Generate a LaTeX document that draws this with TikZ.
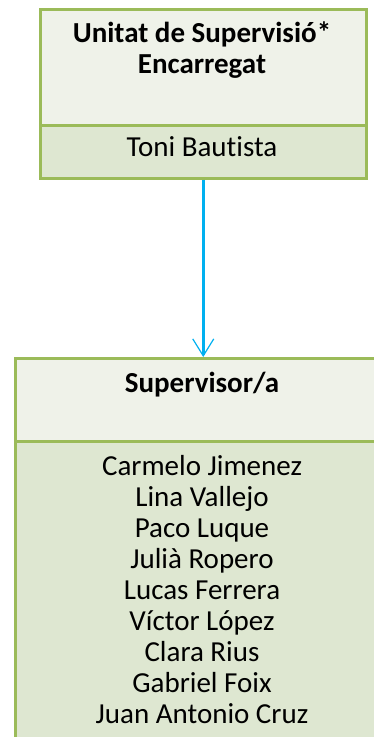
\documentclass[tikz,border=0pt]{standalone}
\usepackage{fontspec}
\setmainfont{Carlito}[Ligatures=CommonOff]
\usetikzlibrary{arrows.meta}
\definecolor{olive}{HTML}{9BBB59}
\definecolor{headfill}{HTML}{EFF2E9}
\definecolor{bodyfill}{HTML}{DEE7D1}
\definecolor{cyanarrow}{HTML}{00B0F0}
\tikzset{
  box/.style={draw=olive, line width=2.5pt, rectangle, inner sep=0pt, anchor=north west},
  head/.style={box, fill=headfill},
  body/.style={box, fill=bodyfill},
  txt/.style={font=\fontsize{29}{31}\selectfont, align=center, inner sep=0pt},
  bold/.style={txt, font=\fontsize{29}{31.5}\selectfont\bfseries},
  link/.style={draw=cyanarrow, line width=2.5pt, -{Straight Barb[length=17pt,width=21pt,line width=1.2pt]}}
}
\begin{document}
\begin{tikzpicture}[x=1pt,y=-1pt]
\useasboundingbox (0,0) rectangle (374,737);
\clip (0,0) rectangle (374,737);
% top box
\node[head, minimum width=326pt, minimum height=116pt] (h1) at (39,8) {};
\node[body, minimum width=326pt, minimum height=53pt] (b1) at (39,124) {};
\node[bold, anchor=base] (t1) at (202,73.5) {Unitat de Supervisió*\\Encarregat};
\node[txt, anchor=base] (n1) at (202,156) {Toni Bautista};
% bottom box
\node[head, minimum width=376pt, minimum height=83pt] (h2) at (14,357) {};
\node[body, minimum width=376pt, minimum height=320pt] (b2) at (14,440) {};
\node[bold, anchor=base] (t2) at (202,392) {Supervisor/a};
\node[txt, anchor=base] (n2) at (202,723) {Carmelo Jimenez\\Lina Vallejo\\Paco Luque\\Julià Ropero\\Lucas Ferrera\\Víctor López\\Clara Rius\\Gabriel Foix\\Juan Antonio Cruz};
% connector
\draw[link] (b1.south) -- (h2.north);
\end{tikzpicture}
\end{document}
